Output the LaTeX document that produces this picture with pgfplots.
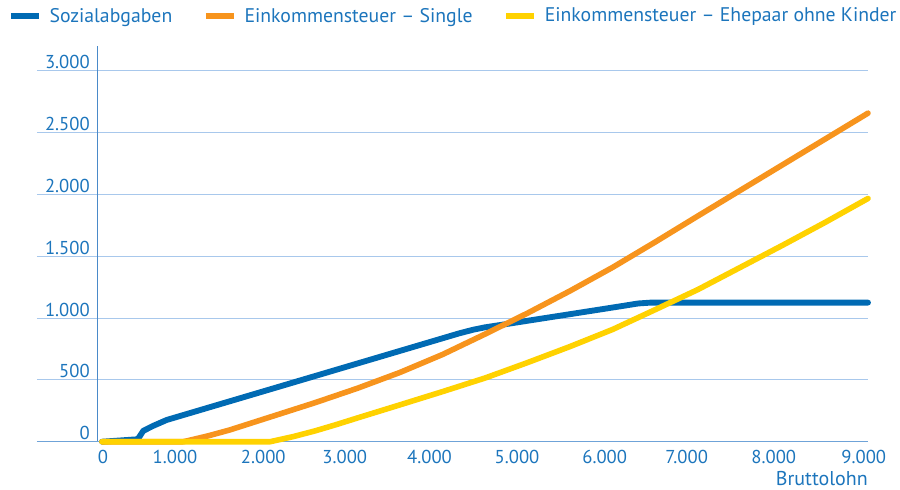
\documentclass[border=0pt]{standalone}
\usepackage{fontspec}
\setmainfont{PT Sans}
\usepackage{pgfplots}
\pgfplotsset{compat=1.18}
\definecolor{txtblue}{HTML}{1C75BC}
\definecolor{lblue}{HTML}{006AB3}
\definecolor{lorange}{HTML}{F7941D}
\definecolor{lyellow}{HTML}{FFD200}
\definecolor{gridblue}{HTML}{A8C8EC}
\definecolor{axisblue}{HTML}{4A8AC9}
\definecolor{baseblue}{HTML}{6FA3D8}
\begin{document}
\begin{tikzpicture}
\begin{axis}[name=ax, scale only axis, width=623.25pt, height=296.8pt,
  xmin=-764, xmax=9000, ymin=0, ymax=3200,
  axis line style={draw=none},
  major tick length=0pt,
  ytick={0,500,1000,1500,2000,2500,3000},
  yticklabels={0,500,1.000,1.500,2.000,2.500,3.000},
  xtick={12,858,1895,2852,3848,4876,5906,6869,7893,8950},
  xticklabels={0,1.000,2.000,3.000,4.000,5.000,6.000,7.000,8.000,9.000},
  ymajorgrids, grid style={gridblue, line width=0.75pt},
  extra x ticks={-50}, extra x tick labels={},
  extra x tick style={grid=major, major grid style={axisblue, line width=0.9pt}},
  extra y ticks={0}, extra y tick labels={},
  extra y tick style={grid=major, major grid style={baseblue, line width=1pt}},
  ticklabel style={font=\fontsize{14}{16}\selectfont, text=txtblue, inner sep=0pt},
  /pgf/number format/assume math mode=true,
  yticklabel style={anchor=base east, xshift=39.75pt, yshift=1.5pt},
  xticklabel style={anchor=north, yshift=-6.2pt},
  xlabel={Bruttolohn},
  xlabel style={at={(rel axis cs:1,0)}, anchor=base east, yshift=-33.2pt, inner sep=0pt, font=\fontsize{15}{18}\selectfont, text=txtblue},
  clip=false,
  legend columns=-1,
  legend style={at={(rel axis cs:0,1)}, anchor=west, xshift=-21.75pt, yshift=22.5pt,
    draw=none, fill=none, inner sep=0pt, outer sep=0pt,
    font=\fontsize{14.8}{17}\selectfont, text=txtblue,
    nodes={inner sep=0pt},
    /tikz/every odd column/.append style={column sep=6pt},
    /tikz/every even column/.append style={column sep=23pt}},
  legend image code/.code={\draw[line width=4.2pt, line cap=butt] (0pt,0pt) -- (21pt,0pt);},
]
\addplot[lblue, line width=4.4pt, line join=round, line cap=round] table {
x y
0 0
420 20
485 88
600 128
760 176
4200 877
4363 906
4500 925
4700 946
5616 1044
6100 1096
6300 1118
6450 1125
9000 1125
};
\addlegendentry{Sozialabgaben}
\addplot[lorange, line width=4.2pt, line join=round, line cap=round] table {
x y
0 0
950 0
1000 7
1250 48
1500 95
2000 205
2500 315
3000 432
3500 560
4000 705
4500 870
5000 1040
5500 1220
6000 1410
6500 1615
7000 1825
7500 2033
8000 2241
8500 2449
9000 2657
};
\addlegendentry{Einkommensteuer – Single}
\addplot[lyellow, line width=4.2pt, line join=round, line cap=round] table {
x y
0 0
1975 0
2000 4
2250 42
2500 87
2750 138
3000 192
3500 298
4000 405
4500 515
5000 640
5500 770
6000 908
6500 1068
7000 1230
7500 1410
8000 1590
8500 1775
9000 1967
};
\addlegendentry{Einkommensteuer – Ehepaar ohne Kinder}
\end{axis}
\pgfresetboundingbox
\path[use as bounding box] ([xshift=-27.75pt,yshift=-36.2pt]ax.south west) rectangle ([xshift=24pt,yshift=34.5pt]ax.north east);
\end{tikzpicture}
\end{document}
